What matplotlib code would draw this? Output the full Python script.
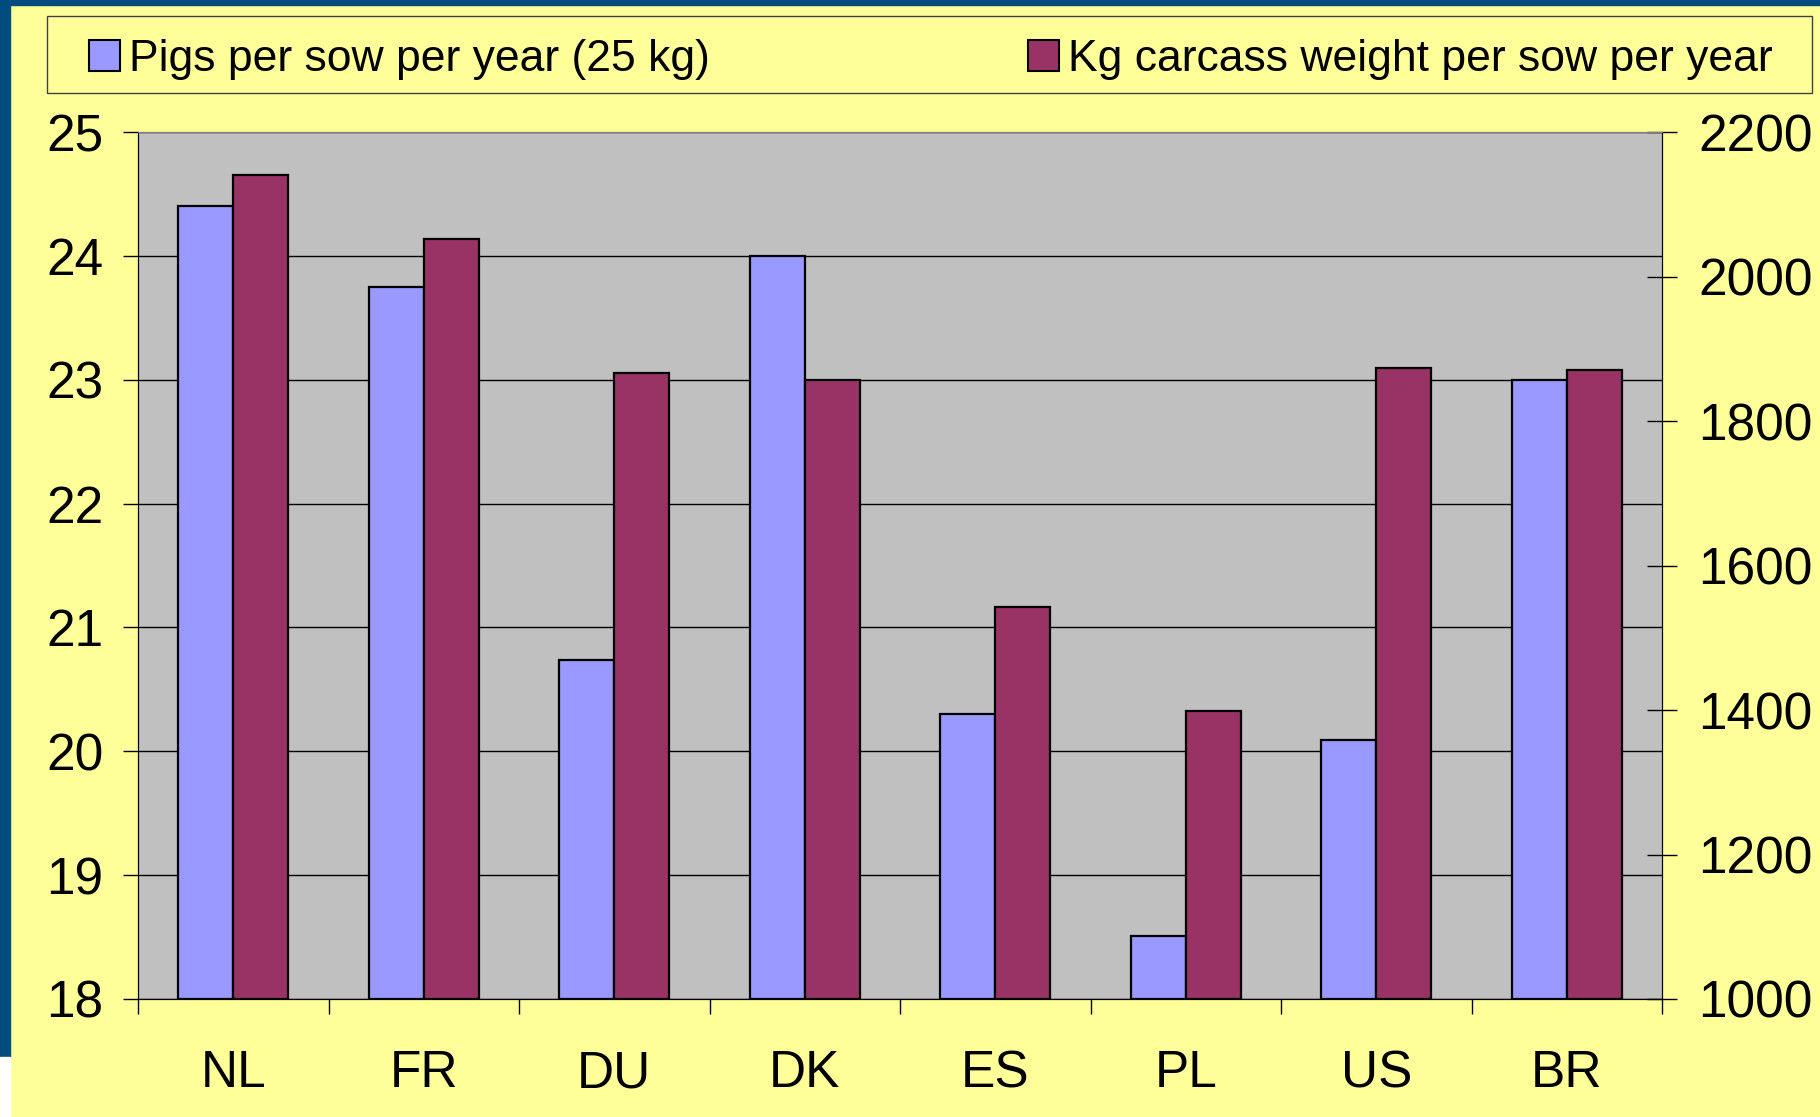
import matplotlib.pyplot as plt
import matplotlib.patches as mpatches
import numpy as np

plt.rcParams['font.family'] = ['Liberation Sans', 'DejaVu Sans']

countries = ['NL', 'FR', 'DU', 'DK', 'ES', 'PL', 'US', 'BR']
pigs_per_sow = [24.4, 23.75, 20.74, 24.0, 20.3, 18.51, 20.09, 23.0]
kg_per_sow = [2140, 2052, 1866, 1857, 1543, 1398, 1874, 1871]

blue = '#9999FF'
maroon = '#993366'
yellow = '#FFFF99'
border = '#004C7F'

fig = plt.figure(figsize=(18.2, 11.17), dpi=100, facecolor=yellow)
ax = fig.add_axes([138/1820, 1 - 999/1117, (1662-138)/1820, (999-132)/1117])
ax.set_facecolor('#C0C0C0')
ax2 = ax.twinx()

x = np.arange(len(countries))
w = 0.29
ax.bar(x - w/2, [v - 18 for v in pigs_per_sow], w, bottom=18, color=blue,
       edgecolor='black', linewidth=1.6, zorder=3)
ax2.bar(x + w/2, [v - 1000 for v in kg_per_sow], w, bottom=1000, color=maroon,
        edgecolor='black', linewidth=1.6, zorder=3)

ax.set_xlim(-0.5, len(countries) - 0.5)
ax.set_ylim(18, 25)
ax2.set_ylim(1000, 2200)
ax.set_yticks(range(18, 26))
ax2.set_yticks(range(1000, 2201, 200))
ax.yaxis.grid(True, color='black', linewidth=1)
ax.set_axisbelow(True)

ax.set_xticks(np.arange(-0.5, len(countries), 1), minor=False)
ax.set_xticklabels([])
ax.set_xticks(x, minor=True)
ax.set_xticklabels(countries, minor=True)
ax.tick_params(axis='x', which='major', direction='out', length=11, width=1)
ax.tick_params(axis='x', which='minor', length=0, pad=36, labelsize=37)
ax.tick_params(axis='y', direction='out', length=11, width=1, labelsize=37, pad=14)
ax2.tick_params(axis='y', direction='inout', length=22, width=1, labelsize=37, pad=15)

for a in (ax, ax2):
    a.spines['top'].set_color('#808080')
    a.spines['left'].set_color('black')
    a.spines['right'].set_color('black')
    a.spines['bottom'].set_color('black')

# legend frame
fig.patches.append(mpatches.Rectangle((47/1820, 1 - 93/1117), (1812-47)/1820, 77/1117,
                                      transform=fig.transFigure, facecolor=yellow,
                                      edgecolor='#404040', linewidth=1, zorder=1))
handles = [mpatches.Patch(facecolor=blue, edgecolor='black', linewidth=1.5),
           mpatches.Patch(facecolor=maroon, edgecolor='black', linewidth=1.5)]
leg = fig.legend(handles, ['Pigs per sow per year (25 kg)', 'Kg carcass weight per sow per year'],
                 loc='lower left', bbox_to_anchor=(76/1820, 1 - 93/1117, (1786-76)/1820, 77/1117),
                 mode='expand', ncol=2, fontsize=32, frameon=False,
                 handlelength=0.7, handleheight=0.7, handletextpad=0.2, borderaxespad=0,
                 borderpad=0.3)

# slide border
fig.patches.append(mpatches.Rectangle((0, 1 - 5/1117), 1, 5/1117, transform=fig.transFigure,
                                      color=border, zorder=0))
fig.patches.append(mpatches.Rectangle((0, 60/1117), 10/1820, 1, transform=fig.transFigure,
                                      color=border, zorder=0))
fig.patches.append(mpatches.Rectangle((0, 0), 10/1820, 60/1117, transform=fig.transFigure,
                                      color='white', zorder=0))

fig.savefig('out.png', dpi=100, facecolor=yellow)
